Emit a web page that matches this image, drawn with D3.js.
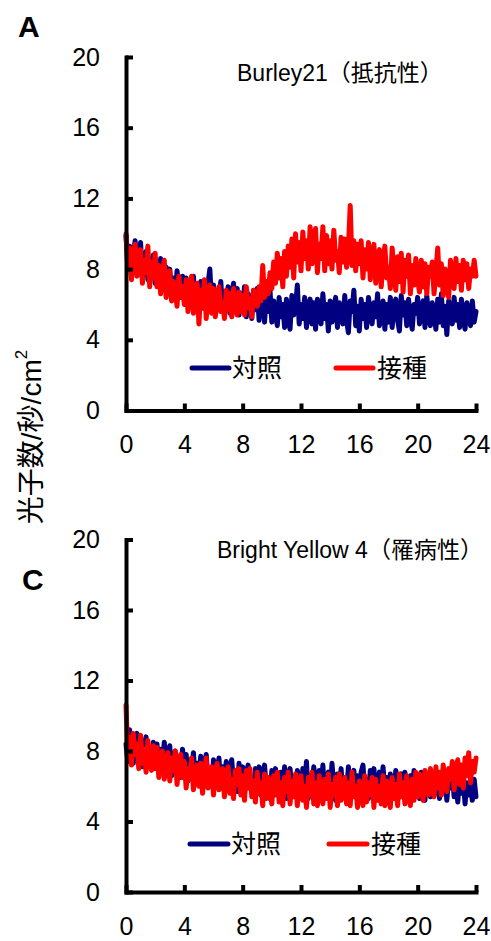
<!DOCTYPE html>
<html>
<head>
<meta charset="utf-8">
<script src="https://cdn.jsdelivr.net/npm/d3@7"></script>
<style>
  html, body { margin: 0; padding: 0; background: #fff; }
  svg { display: block; }
  text { font-family: "Liberation Sans", Arial, "Noto Sans CJK JP", sans-serif; fill: #000; }
</style>
</head>
<body>
<svg id="chart" width="491" height="941"></svg>
<script>
// Photon counts (per s per cm²) sampled every 7.5 min over 24 h; one row per hour.
const stepHours = 0.125;
const xTicks = [0, 4, 8, 12, 16, 20, 24];
const yTicks = [0, 4, 8, 12, 16, 20];
const seriesNames = ["対照", "接種"];
const seriesColors = ["#000080", "#ff0000"];

// Burley21 (resistant)
const burleyControl = [
  9.9, 8.2, 9.3, 7.6, 8.8, 9.6, 7.8, 8.5,
  9.5, 7.5, 8.1, 9.0, 7.4, 8.6, 7.9, 8.8,
  7.2, 8.4, 7.0, 8.6, 7.6, 6.9, 8.1, 7.4,
  8.0, 6.6, 7.5, 6.5, 7.9, 7.0, 6.4, 7.6,
  6.9, 7.5, 6.1, 7.2, 6.5, 7.6, 6.0, 7.1,
  6.4, 7.3, 5.8, 7.0, 6.6, 7.2, 8.0, 6.0,
  7.1, 5.7, 6.8, 6.2, 7.3, 5.6, 6.7, 6.0,
  7.0, 5.5, 6.5, 7.2, 5.8, 6.9, 5.4, 6.6,
  5.9, 7.0, 5.3, 6.6, 6.1, 5.2, 6.8, 5.7,
  6.9, 5.1, 6.3, 7.1, 5.0, 6.5, 5.6, 6.8,
  5.0, 6.2, 5.5, 4.8, 6.4, 5.3, 6.0, 4.7,
  6.3, 5.1, 4.6, 6.5, 5.4, 5.9, 7.1, 4.9,
  6.0, 5.2, 6.4, 4.7, 5.8, 6.3, 4.9, 6.1,
  4.6, 6.3, 5.5, 4.9, 6.6, 5.2, 6.0, 4.5,
  6.2, 5.0, 5.8, 6.4, 4.7, 6.1, 5.4, 4.9,
  6.5, 5.1, 4.4, 6.2, 5.6, 6.8, 4.8, 5.9,
  4.5, 6.3, 5.2, 6.0, 4.7, 6.4, 5.5, 4.9,
  6.1, 5.3, 6.6, 4.8, 5.7, 6.2, 4.6, 6.0,
  5.0, 6.4, 4.7, 5.9, 6.3, 5.1, 4.5, 6.5,
  5.4, 6.1, 4.8, 6.3, 5.2, 4.6, 6.0, 5.5,
  6.4, 4.9, 5.8, 6.2, 4.7, 6.5, 5.3, 4.8,
  6.1, 5.6, 4.6, 6.3, 5.0, 6.6, 4.8, 5.9,
  4.3, 6.2, 5.4, 4.9, 6.4, 5.1, 6.0, 4.7,
  6.3, 5.2, 4.6, 6.1, 5.5, 4.8, 6.2, 5.0,
  5.6
];
const burleyInoculated = [
  10.0, 8.0, 9.2, 7.4, 8.7, 9.4, 7.6, 8.3,
  9.1, 7.2, 8.5, 7.8, 9.3, 7.0, 8.4, 7.5,
  8.9, 7.0, 8.2, 6.6, 7.8, 8.5, 6.4, 7.4,
  7.9, 6.2, 7.3, 6.8, 5.9, 7.6, 6.4, 7.0,
  6.0, 7.4, 5.6, 6.9, 7.6, 5.5, 6.5, 7.2,
  4.9, 6.8, 5.8, 7.4, 5.2, 6.6, 7.1, 5.5,
  6.9, 5.3, 6.3, 7.0, 5.6, 6.1, 5.2, 6.8,
  5.7, 6.6, 5.3, 6.9, 6.0, 5.4, 6.7, 5.6,
  6.5, 5.4, 7.0, 5.8, 6.3, 5.3, 6.8, 6.0,
  5.9, 7.0, 6.2, 8.2, 6.4, 7.3, 6.6, 7.8,
  6.9, 8.4, 7.2, 8.9, 7.5, 8.6, 7.0, 9.0,
  7.6, 9.3, 8.1, 9.7, 7.5, 10.0, 8.4, 9.5,
  7.9, 10.1, 8.6, 9.6, 8.0, 10.4, 8.3, 9.8,
  10.3, 7.8, 9.4, 8.6, 10.4, 7.9, 9.9, 8.3,
  9.6, 8.0, 10.2, 8.5, 9.0, 7.8, 9.8, 8.4,
  9.7, 8.1, 9.2, 11.6, 8.2, 9.6, 7.9, 9.4,
  8.3, 9.6, 7.5, 9.1, 8.0, 9.5, 7.4, 8.8,
  9.4, 7.2, 8.6, 9.1, 7.0, 8.4, 9.3, 7.5,
  8.1, 6.9, 9.2, 7.8, 6.8, 8.7, 7.3, 8.9,
  6.7, 8.5, 7.6, 8.8, 6.6, 8.2, 7.1, 8.6,
  7.4, 6.7, 8.5, 7.0, 8.3, 6.6, 8.1, 7.6,
  8.4, 6.6, 7.9, 9.2, 7.1, 8.3, 6.5, 8.0,
  7.2, 6.4, 8.5, 7.5, 6.9, 8.6, 7.3, 8.2,
  6.8, 8.5, 7.4, 8.3, 6.9, 8.0, 7.6, 8.5,
  7.6
];

// Bright Yellow 4 (susceptible)
const byControl = [
  8.4, 7.4, 9.2, 8.0, 7.3, 8.8, 9.0, 7.6,
  8.6, 7.1, 8.3, 8.8, 7.4, 8.0, 7.0, 8.5,
  7.6, 8.4, 6.8, 8.1, 7.3, 8.5, 6.9, 7.8,
  8.3, 6.6, 7.7, 8.0, 6.9, 7.4, 6.5, 8.1,
  7.0, 7.8, 6.3, 7.5, 6.8, 7.9, 6.2, 7.3,
  6.6, 7.7, 6.1, 7.2, 7.8, 6.4, 7.0, 6.0,
  7.5, 6.3, 6.9, 7.6, 5.9, 7.1, 6.5, 7.4,
  5.8, 7.0, 7.5, 6.2, 6.8, 5.7, 7.3, 6.4,
  7.1, 5.6, 6.7, 7.2, 5.9, 6.5, 5.4, 7.0,
  6.2, 7.1, 5.5, 6.6, 7.2, 5.8, 6.4, 5.3,
  6.9, 5.7, 7.0, 6.1, 5.4, 6.8, 5.9, 7.1,
  5.3, 6.5, 7.0, 5.6, 6.3, 5.4, 6.9, 6.0,
  5.5, 7.0, 6.1, 7.4, 5.3, 6.6, 5.8, 7.1,
  6.2, 5.4, 6.9, 5.7, 7.2, 5.3, 6.4, 6.8,
  5.5, 7.3, 6.0, 5.2, 6.7, 5.8, 7.0, 5.4,
  6.5, 5.6, 7.1, 5.3, 6.3, 6.9, 5.5, 6.6,
  5.2, 6.8, 7.2, 5.7, 6.4, 5.3, 6.9, 6.0,
  7.0, 5.4, 6.2, 6.8, 5.5, 7.1, 5.8, 6.5,
  5.3, 6.7, 6.0, 5.5, 6.9, 5.2, 6.4, 6.7,
  5.6, 6.8, 5.3, 6.2, 6.6, 5.4, 6.9, 5.7,
  6.5, 5.3, 6.8, 5.8, 5.2, 6.6, 6.0, 5.4,
  6.7, 5.5, 6.2, 6.8, 5.3, 6.4, 5.7, 6.6,
  5.2, 6.5, 5.9, 6.7, 5.4, 6.3, 5.1, 6.5,
  5.6, 6.4, 5.0, 6.2, 5.5, 6.0, 5.2, 6.4,
  5.4
];
const byInoculated = [
  10.6, 7.6, 8.8, 7.2, 9.0, 7.8, 8.4, 7.0,
  8.9, 7.3, 8.1, 6.8, 8.6, 7.5, 6.9, 8.3,
  7.0, 8.2, 6.5, 7.7, 8.0, 6.4, 7.4, 7.9,
  6.3, 7.6, 6.9, 8.0, 6.1, 7.2, 7.8, 6.5,
  7.4, 5.9, 7.0, 6.4, 7.6, 5.8, 6.8, 7.2,
  6.0, 7.3, 5.6, 6.9, 7.6, 5.9, 6.6, 7.1,
  5.5, 6.8, 7.3, 5.8, 6.5, 7.0, 5.4, 6.7,
  7.1, 5.6, 6.4, 5.3, 6.9, 6.1, 7.0, 5.5,
  6.6, 5.2, 6.9, 5.9, 7.0, 5.4, 6.3, 5.1,
  6.8, 5.6, 6.2, 4.9, 6.7, 5.3, 6.5, 5.8,
  5.0, 6.6, 5.5, 6.8, 5.1, 6.2, 4.9, 6.5,
  5.7, 6.8, 5.0, 6.3, 5.4, 6.7, 4.9, 6.1,
  6.6, 5.2, 6.0, 4.8, 6.5, 5.5, 6.8, 5.0,
  6.2, 4.9, 6.6, 5.6, 5.0, 6.4, 5.3, 6.7,
  4.8, 6.1, 5.5, 6.5, 4.9, 6.7, 5.2, 6.0,
  6.5, 5.0, 6.2, 4.9, 6.8, 5.4, 6.0, 4.8,
  6.3, 5.6, 4.9, 6.6, 5.1, 6.2, 5.5, 6.5,
  4.8, 6.4, 5.2, 6.0, 5.0, 6.6, 4.9, 6.3,
  5.6, 4.8, 6.5, 5.3, 6.1, 4.9, 6.7, 5.4,
  6.2, 5.0, 6.6, 5.5, 4.9, 6.4, 5.2, 6.8,
  5.4, 6.7, 5.8, 5.2, 6.9, 6.0, 5.5, 7.0,
  6.2, 5.4, 7.1, 5.9, 6.8, 5.5, 7.2, 6.3,
  5.7, 7.0, 6.4, 7.4, 5.8, 6.9, 7.5, 6.1,
  7.2, 5.9, 7.6, 6.6, 7.9, 6.2, 7.4, 6.8,
  7.6
];

const panels = [
  { letter: "A", letterX: 18, letterY: 37, title: "Burley21（抵抗性）", titleX: 237, titleY: 81,
    top: 57, bottom: 410.5, legendY: 368, series: [burleyControl, burleyInoculated],
    legend: [{ x1: 192, x2: 229, tx: 232 }, { x1: 336, x2: 373, tx: 377 }] },
  { letter: "C", letterX: 22, letterY: 590, title: "Bright Yellow 4（罹病性）", titleX: 217, titleY: 558,
    top: 539.5, bottom: 892, legendY: 844, series: [byControl, byInoculated],
    legend: [{ x1: 190, x2: 228, tx: 231 }, { x1: 329, x2: 367, tx: 371 }] }
];

const svg = d3.select("#chart");
const x = d3.scaleLinear().domain([0, 24]).range([126, 476]);

panels.forEach(p => {
  const y = d3.scaleLinear().domain([0, 20]).range([p.bottom, p.top]);
  const g = svg.append("g");

  // traces: control first, inoculated drawn over it
  const line = d3.line()
    .x((d, i) => x(i * stepHours))
    .y(d => y(d));
  p.series.forEach((vals, si) => {
    g.append("path")
      .datum(vals)
      .attr("d", line)
      .attr("fill", "none")
      .attr("stroke", seriesColors[si])
      .attr("stroke-width", 5)
      .attr("stroke-linejoin", "round")
      .attr("stroke-linecap", "round");
  });

  // axes with ticks pointing into the plot
  const yAxis = g.append("g")
    .attr("transform", `translate(${x(0)},0)`)
    .call(d3.axisLeft(y).tickValues(yTicks).tickSizeInner(-7).tickSizeOuter(0).tickPadding(26));
  const xAxis = g.append("g")
    .attr("transform", `translate(0,${p.bottom})`)
    .call(d3.axisBottom(x).tickValues(xTicks).tickSizeInner(-7).tickSizeOuter(0).tickPadding(25));

  [yAxis, xAxis].forEach(ax => {
    ax.select(".domain").attr("stroke", "#000").attr("stroke-width", 4).attr("stroke-linecap", "square");
    ax.selectAll(".tick line").attr("stroke", "#000").attr("stroke-width", 4);
    ax.selectAll(".tick text").attr("font-size", 25).attr("fill", "#000")
      .style("font-family", '"Liberation Sans", Arial, sans-serif');
  });

  // panel letter
  svg.append("text")
    .attr("x", p.letterX).attr("y", p.letterY)
    .attr("font-size", 30).attr("font-weight", "bold")
    .text(p.letter);

  // panel title
  svg.append("text")
    .attr("x", p.titleX).attr("y", p.titleY)
    .attr("font-size", 23)
    .text(p.title);

  // legend
  p.legend.forEach((L, i) => {
    svg.append("line")
      .attr("x1", L.x1).attr("x2", L.x2)
      .attr("y1", p.legendY).attr("y2", p.legendY)
      .attr("stroke", seriesColors[i]).attr("stroke-width", 5)
      .attr("stroke-linecap", "round");
    svg.append("text")
      .attr("x", L.tx).attr("y", p.legendY)
      .attr("dominant-baseline", "central")
      .attr("font-size", 25)
      .text(seriesNames[i]);
  });
});

// shared y-axis title
const yTitle = svg.append("text")
  .attr("transform", "translate(31,437) rotate(-90)")
  .attr("text-anchor", "middle")
  .attr("dominant-baseline", "central")
  .attr("font-size", 28);
yTitle.append("tspan").text("光子数/秒/cm");
yTitle.append("tspan").attr("font-size", 17).attr("dy", -10).text("2");
</script>
</body>
</html>
